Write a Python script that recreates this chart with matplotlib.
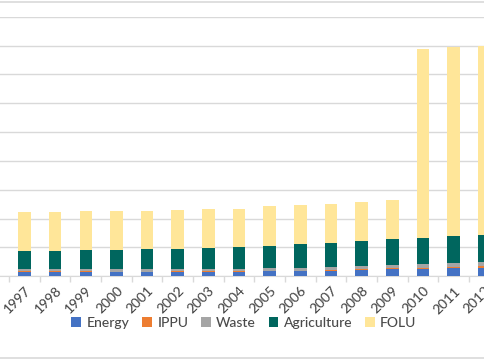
import numpy as np
import matplotlib.pyplot as plt
from matplotlib.lines import Line2D

plt.rcParams['font.family'] = ['Lato', 'DejaVu Sans']

years = list(range(1996, 2013))
energy = [16, 16, 16, 16, 15, 15, 16, 16, 16, 17, 18, 19, 22, 24, 25, 28, 30]
ippu = [1, 1, 1, 1, 1, 1, 1, 1, 1, 1.5, 1.5, 2, 3, 3.5, 5, 5, 5]
waste = [8, 8, 8, 8, 9, 9, 9, 9, 9, 10, 10, 10, 11, 11, 11, 13, 13]
agriculture = [61, 62, 63, 65, 67, 68, 70, 72, 74, 77, 81, 86, 87, 90, 91, 93, 96]
folu = [136, 136, 135, 136, 135, 134, 134, 136, 135, 137, 136, 133, 134, 135, 656, 656, 656]

series = [('Energy', energy, '#4472C4'),
          ('IPPU', ippu, '#ED7D31'),
          ('Waste', waste, '#A5A5A5'),
          ('Agriculture', agriculture, '#00665E'),
          ('FOLU', folu, '#FFE699')]

fig = plt.figure(figsize=(4.85, 3.6), dpi=100)
ax = fig.add_axes([0, 0.2325, 1, 0.7208])

x = np.arange(len(years)) - 1  # 1997 -> 0
bottom = np.zeros(len(years))
for name, vals, col in series:
    ax.bar(x, vals, width=0.41, bottom=bottom, color=col, label=name, zorder=3)
    bottom += np.array(vals)

ax.set_ylim(0, 900)
ax.set_yticks(np.arange(0, 901, 100))
ax.yaxis.grid(True, color='#D9D9D9', linewidth=1, zorder=0)
ax.tick_params(axis='y', left=False, labelleft=False)

ax.set_xticks(x)
ax.set_xticklabels([str(y) for y in years], rotation=45, ha='right',
                   rotation_mode='anchor', fontsize=10, color='#4a4a4a',
                   fontweight='medium')
ax.set_xticks(np.append(x - 0.5, x[-1] + 0.5), minor=True)
ax.tick_params(axis='x', which='major', length=0, pad=6)
ax.tick_params(axis='x', which='minor', length=4, color='#D9D9D9', width=1)
ax.set_xlim(-24.5 / 30.65, (485 - 24.5) / 30.65)

for s in ['top', 'left', 'right']:
    ax.spines[s].set_visible(False)
ax.spines['bottom'].set_color('#D9D9D9')

# chart border lines (top and bottom)
fig.add_artist(Line2D([0, 1], [1 - 1.5 / 360, 1 - 1.5 / 360], color='#D9D9D9', linewidth=1.2))
fig.add_artist(Line2D([0, 1], [2 / 360, 2 / 360], color='#D9D9D9', linewidth=1.2))

fig.legend(loc='center', bbox_to_anchor=(244 / 485, 1 - 323 / 360), ncol=5,
           frameon=False, handlelength=0.7, handleheight=0.7,
           handletextpad=0.4, columnspacing=0.9, labelcolor='#4a4a4a',
           prop={'size': 10, 'weight': 'medium'})

fig.savefig('out.png', dpi=100)
